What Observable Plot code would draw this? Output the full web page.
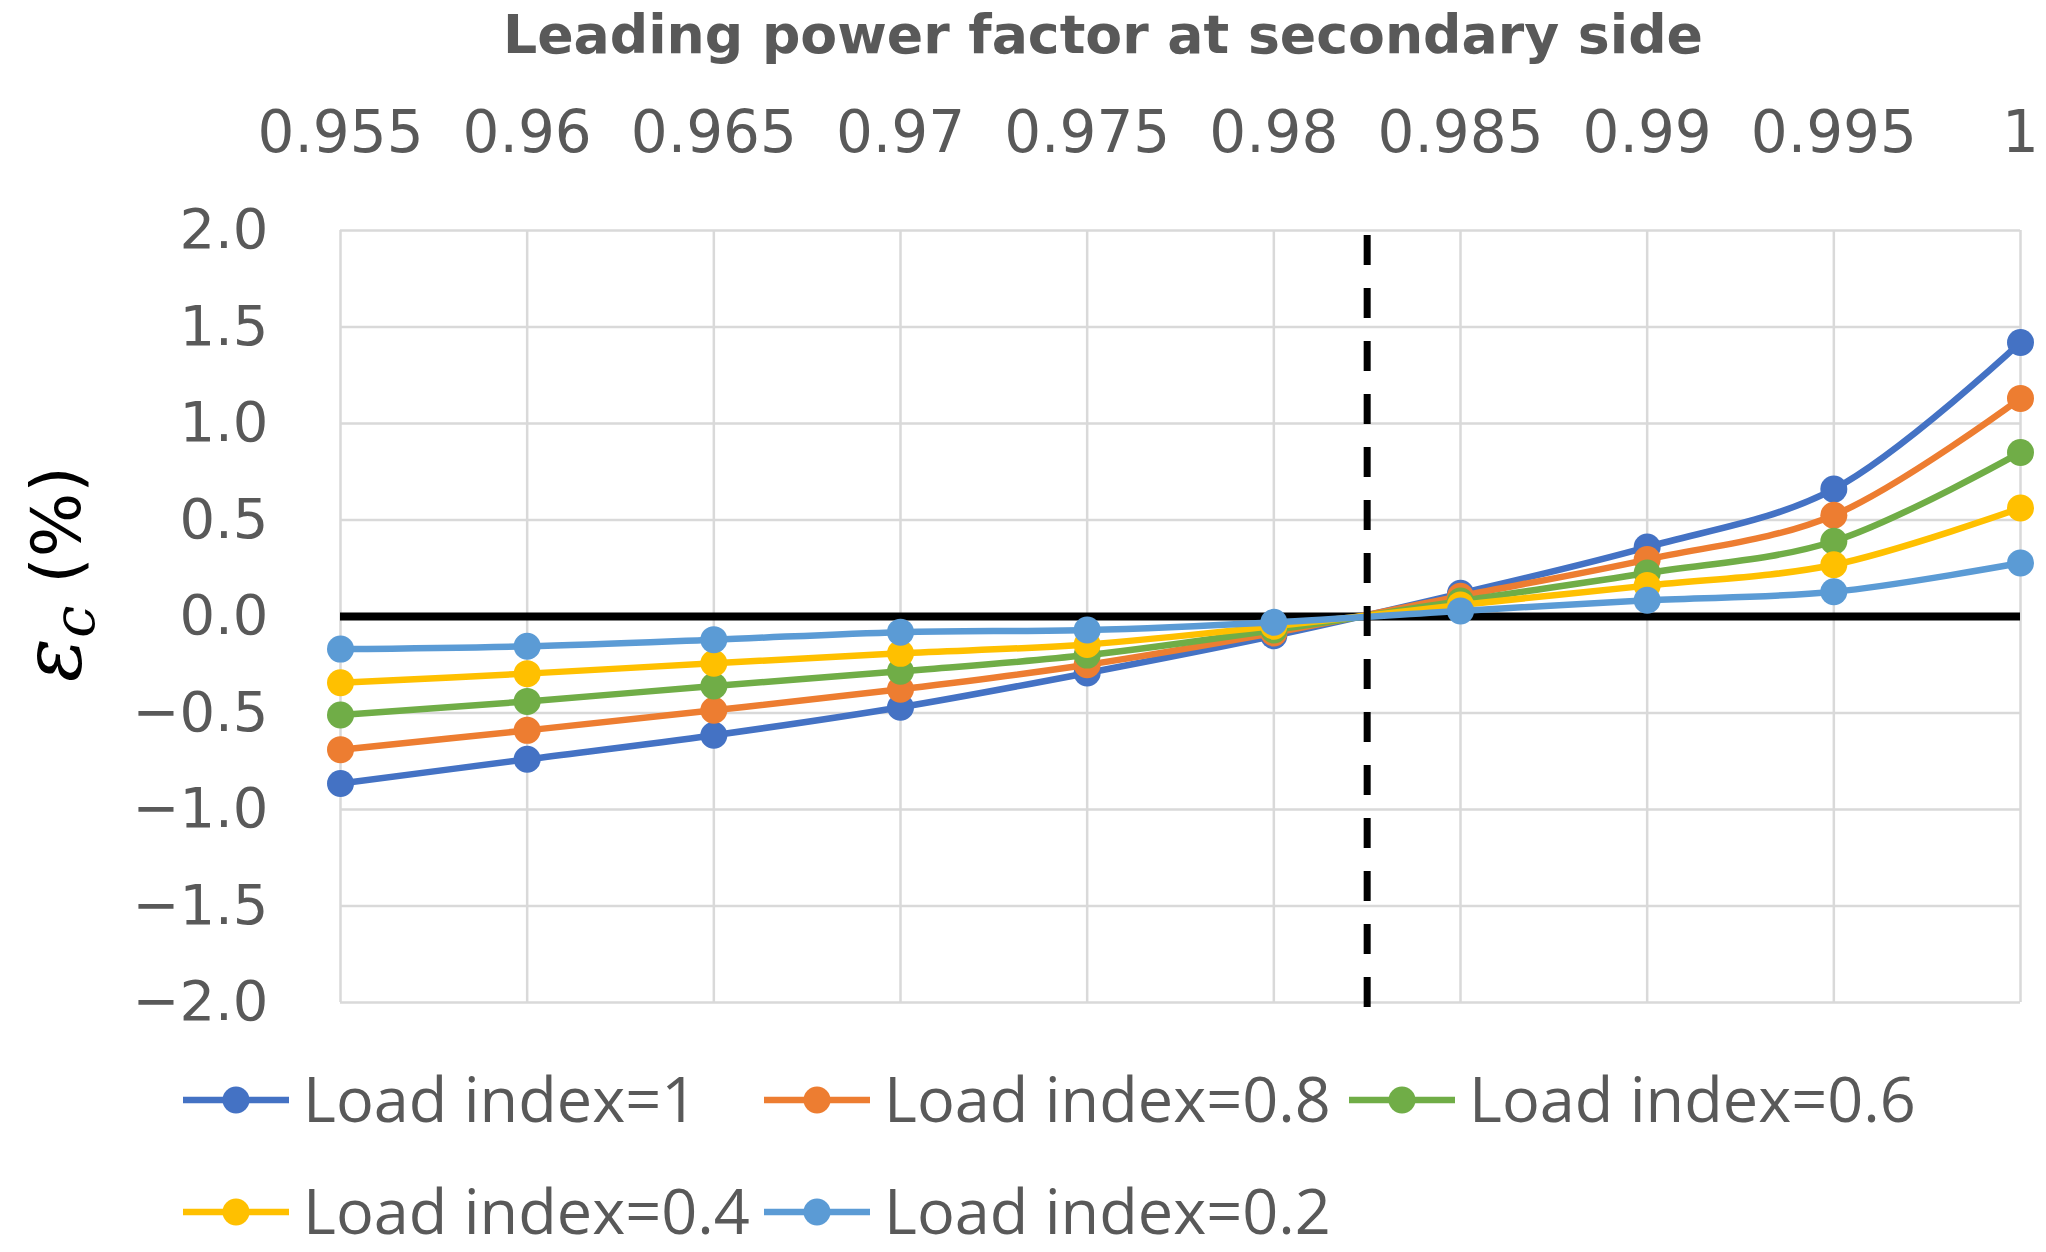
<!DOCTYPE html>
<html>
<head>
<meta charset="utf-8">
<script src="https://cdn.jsdelivr.net/npm/d3@7"></script>
<script src="https://cdn.jsdelivr.net/npm/@observablehq/plot@0.6"></script>
<style>
  html, body { margin: 0; padding: 0; background: #fff; width: 2046px; height: 1252px; overflow: hidden; }
  #chart { position: absolute; top: 0; left: 0; }
</style>
</head>
<body>
<div id="chart"></div>
<script>
// ---- data ----
const powerFactor = [0.955, 0.96, 0.965, 0.97, 0.975, 0.98, 0.985, 0.99, 0.995, 1];
const xTickLabels = ["0.955", "0.96", "0.965", "0.97", "0.975", "0.98", "0.985", "0.99", "0.995", "1"];
const yTicks = [-2, -1.5, -1, -0.5, 0, 0.5, 1, 1.5, 2];
const seriesNames = ["Load index=1", "Load index=0.8", "Load index=0.6", "Load index=0.4", "Load index=0.2"];
const seriesColors = ["#4472C4", "#ED7D31", "#70AD47", "#FFC000", "#5B9BD5"];
const load1  = [-0.865, -0.74, -0.615, -0.47, -0.293, -0.10, 0.12, 0.36, 0.66, 1.42];
const load08 = [-0.69, -0.59, -0.486, -0.377, -0.25, -0.085, 0.105, 0.295, 0.525, 1.13];
const load06 = [-0.51, -0.44, -0.36, -0.284, -0.2, -0.07, 0.08, 0.225, 0.39, 0.85];
const load04 = [-0.343, -0.296, -0.242, -0.191, -0.145, -0.05, 0.06, 0.16, 0.268, 0.562];
const load02 = [-0.169, -0.154, -0.12, -0.081, -0.07, -0.03, 0.029, 0.084, 0.128, 0.277];
const crossX = 0.9825;
const titleText = "Leading power factor at secondary side";

const seriesValues = [load1, load08, load06, load04, load02];
const rows = seriesValues.map((vals, s) =>
  vals.map((v, i) => ({ series: seriesNames[s], x: powerFactor[i], y: v })));

const seriesMarks = rows.flatMap((data, s) => [
  Plot.line(data, { x: "x", y: "y", stroke: seriesColors[s], strokeWidth: 6.5, curve: "catmull-rom" }),
  Plot.dot(data, { x: "x", y: "y", r: 13.5, fill: seriesColors[s], stroke: "none" })
]);

const plot = Plot.plot({
  width: 2046,
  height: 1252,
  marginLeft: 340,
  marginRight: 26,
  marginTop: 230,
  marginBottom: 250,
  style: { fontFamily: "DejaVu Sans", color: "#595959", background: "white" },
  x: { domain: [0.955, 1] },
  y: { domain: [-2, 2] },
  marks: [
    Plot.gridY(yTicks, { stroke: "#d9d9d9", strokeOpacity: 1, strokeWidth: 2.5 }),
    Plot.gridX(powerFactor, { stroke: "#d9d9d9", strokeOpacity: 1, strokeWidth: 2.5 }),
    Plot.ruleY([0], { stroke: "black", strokeWidth: 8 }),
    ...seriesMarks,
    Plot.ruleX([crossX], { stroke: "black", strokeWidth: 7, strokeDasharray: "30,23", strokeDashoffset: 48, insetBottom: -16 }),
    Plot.axisX(powerFactor, {
      anchor: "top", tickSize: 0, tickPadding: 79, fontSize: 58, label: null,
      tickFormat: d => xTickLabels[powerFactor.indexOf(d)]
    }),
    Plot.axisY(yTicks, {
      anchor: "left", tickSize: 0, tickPadding: 72, fontSize: 56, label: null,
      tickFormat: d3.format(".1f")
    })
  ]
});
document.getElementById("chart").appendChild(plot);
const svg = d3.select(plot);

// title
svg.append("text")
  .attr("x", 1103).attr("y", 53)
  .attr("text-anchor", "middle")
  .attr("font-family", "DejaVu Sans").attr("font-weight", 700).attr("font-size", 54)
  .attr("textLength", 1200).attr("lengthAdjust", "spacingAndGlyphs")
  .attr("fill", "#595959")
  .text(titleText);

// y-axis title with subscript
const yl = svg.append("text")
  .attr("transform", "translate(80,574) rotate(-90)")
  .attr("text-anchor", "middle")
  .attr("fill", "black");
yl.append("tspan").attr("font-family", "DejaVu Serif").attr("font-style", "italic").attr("font-size", 82).text("ε");
yl.append("tspan").attr("font-family", "DejaVu Serif").attr("font-style", "italic").attr("font-size", 58).attr("dy", 14).text("c");
yl.append("tspan").attr("font-family", "DejaVu Sans").attr("font-size", 68).attr("dy", -14).text("\u00a0(%)");

// legend
const legendPos = [
  { x: 183, y: 1100 }, { x: 764, y: 1100 }, { x: 1349, y: 1100 },
  { x: 183, y: 1212 }, { x: 764, y: 1212 }
];
seriesNames.forEach((name, s) => {
  const g = svg.append("g").attr("transform", `translate(${legendPos[s].x},${legendPos[s].y})`);
  g.append("line").attr("x1", 0).attr("x2", 106).attr("y1", 0).attr("y2", 0)
    .attr("stroke", seriesColors[s]).attr("stroke-width", 6.5);
  g.append("circle").attr("cx", 53).attr("cy", 0).attr("r", 13.5).attr("fill", seriesColors[s]);
  g.append("text").attr("x", 120).attr("y", 22)
    .attr("text-anchor", "start")
    .attr("font-family", "Open Sans").attr("font-size", 63).attr("fill", "#595959")
    .text(name);
});
</script>
</body>
</html>
